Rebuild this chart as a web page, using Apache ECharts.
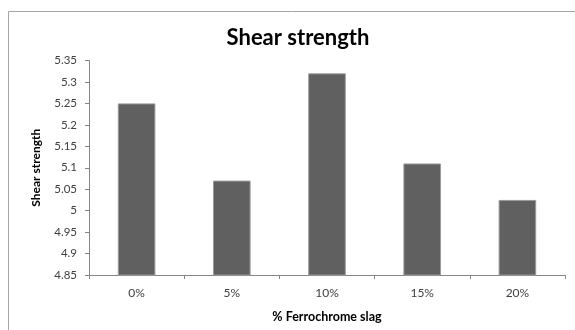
<!DOCTYPE html>
<html>
<head>
<meta charset="utf-8">
<style>
  html, body { margin: 0; padding: 0; background: #ffffff; }
  #chart { width: 575px; height: 330px; }
</style>
<script src="https://cdn.jsdelivr.net/npm/echarts@6/dist/echarts.min.js"></script>
</head>
<body>
<div id="chart"></div>
<script>
// Shear strength for each ferrochrome slag replacement level
const categories = ['0%', '5%', '10%', '15%', '20%'];
const shearStrength = [5.25, 5.07, 5.32, 5.11, 5.025];
const yMin = 4.85;
const yMax = 5.35;
const yStep = 0.05;

const chart = echarts.init(document.getElementById('chart'), null, { renderer: 'canvas' });
const font = 'Lato, "Open Sans", sans-serif';

chart.setOption({
  animation: false,
  backgroundColor: '#ffffff',
  graphic: [{
    type: 'rect',
    shape: { x: 8.5, y: 11.5, width: 600, height: 400 },
    style: { fill: 'none', stroke: '#a6a6a6', lineWidth: 1 },
    silent: true
  }],
  title: {
    text: 'Shear strength',
    left: 293,
    top: 22,
    textAlign: 'center',
    textStyle: { fontFamily: font, fontWeight: 'bold', fontSize: 22, color: '#000000' }
  },
  grid: { left: 89, top: 60.5, width: 476, height: 214.5, containLabel: false },
  xAxis: {
    type: 'category',
    data: categories,
    name: '% Ferrochrome slag',
    nameLocation: 'middle',
    nameGap: 35,
    nameTextStyle: { fontFamily: font, fontWeight: 'bold', fontSize: 12.5, color: '#000000' },
    axisLine: { lineStyle: { color: '#868686', width: 1 } },
    axisTick: { show: true, alignWithLabel: false, length: 4, lineStyle: { color: '#868686' } },
    axisLabel: { fontFamily: font, fontSize: 12, color: '#404040', margin: 12 },
    splitLine: { show: false }
  },
  yAxis: {
    type: 'value',
    min: yMin,
    max: yMax,
    interval: yStep,
    name: 'Shear strength',
    nameLocation: 'middle',
    nameGap: 47,
    nameRotate: 90,
    nameTextStyle: { fontFamily: font, fontWeight: 'bold', fontSize: 12, color: '#000000' },
    axisLine: { show: true, lineStyle: { color: '#868686', width: 1 } },
    axisTick: { show: true, length: 4, lineStyle: { color: '#868686' } },
    axisLabel: {
      fontFamily: font, fontSize: 11.5, color: '#404040', margin: 12,
      formatter: v => String(parseFloat(v.toFixed(2)))
    },
    splitLine: { show: false }
  },
  series: [{
    type: 'bar',
    data: shearStrength,
    barWidth: '39.5%',
    itemStyle: { color: '#606060', borderColor: '#9a9a9a', borderWidth: 1 }
  }]
});
</script>
</body>
</html>
